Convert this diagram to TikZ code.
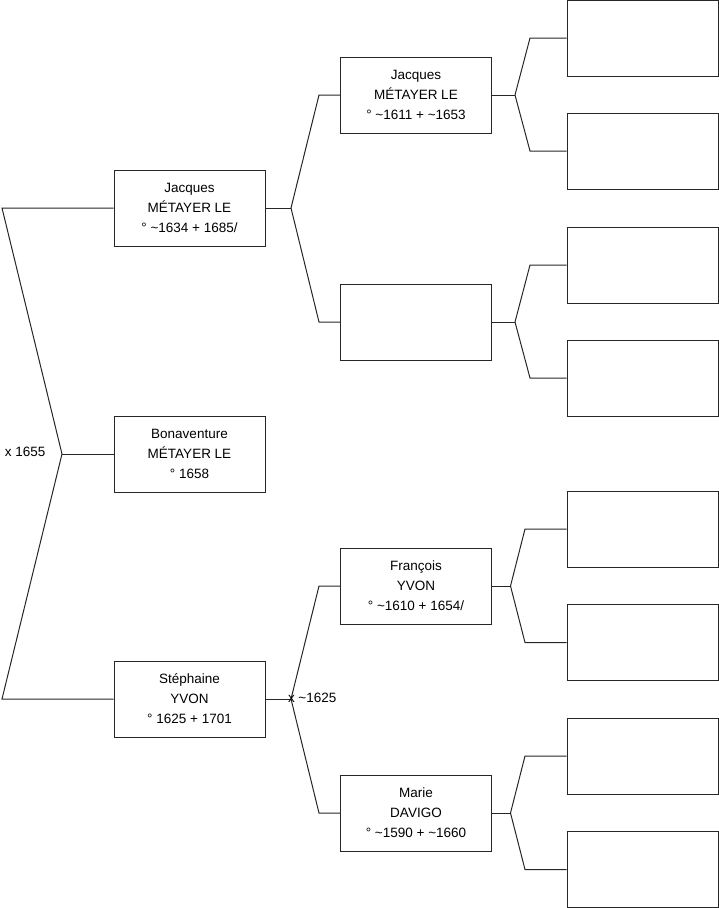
\documentclass[tikz,border=0pt]{standalone}
\usepackage{fontspec}
\setmainfont{Liberation Sans}
\begin{document}
\begin{tikzpicture}[x=1pt,y=-1pt,line width=1pt,
  person/.style={draw=black!85,line width=1pt,minimum width=151pt,minimum height=76pt,inner sep=0pt,align=center,font=\fontsize{13.5}{20}\selectfont},
  lbl/.style={inner sep=0pt,font=\fontsize{13.5}{15}\selectfont},
  conn/.style={draw=black!85,line width=1pt}]
\useasboundingbox (0,0) rectangle (719,908);
% generation 1
\node[person] (j1) at (189.5,208) {Jacques\\MÉTAYER LE\\° \textasciitilde1634 + 1685/};
\node[person] (b1) at (189.5,454) {Bonaventure\\MÉTAYER LE\\° 1658};
\node[person] (s1) at (189.5,699) {Stéphaine\\YVON\\° 1625 + 1701};
% generation 2
\node[person] (j2) at (416,95) {Jacques\\MÉTAYER LE\\° \textasciitilde1611 + \textasciitilde1653};
\node[person] (e2) at (416,322) {};
\node[person] (f2) at (416,586) {François\\YVON\\° \textasciitilde1610 + 1654/};
\node[person] (m2) at (416,813) {Marie\\DAVIGO\\° \textasciitilde1590 + \textasciitilde1660};
% generation 3
\node[person] (g1) at (642.5,38) {};
\node[person] (g2) at (642.5,151) {};
\node[person] (g3) at (642.5,265) {};
\node[person] (g4) at (642.5,378) {};
\node[person] (g5) at (642.5,529) {};
\node[person] (g6) at (642.5,642.5) {};
\node[person] (g7) at (642.5,756) {};
\node[person] (g8) at (642.5,869.5) {};
% left bracket
\coordinate (L1) at (2,208);
\coordinate (F0) at (62,454);
\coordinate (L2) at (2,699);
\draw[conn] (j1.west) -- (L1) -- (F0) -- (L2) -- (s1.west);
\draw[conn] (F0) -- (b1.west);
\node[lbl,anchor=east] (x1655) at (46,452) {x 1655};
% Jacques gen1 fork
\coordinate (F1) at (291,208);
\coordinate (F1a) at (319,95);
\coordinate (F1b) at (319,322);
\draw[conn] (j1.east) -- (F1);
\draw[conn] (F1) -- (F1a) -- (j2.west);
\draw[conn] (F1) -- (F1b) -- (e2.west);
% Stephaine fork
\coordinate (F2) at (291,699);
\coordinate (F2a) at (319,586);
\coordinate (F2b) at (319,813);
\draw[conn] (s1.east) -- (F2);
\draw[conn] (F2) -- (F2a) -- (f2.west);
\draw[conn] (F2) -- (F2b) -- (m2.west);
\node[lbl,anchor=west] (x1625) at (287.5,698) {x \textasciitilde1625};
% gen2 forks
\coordinate (F3) at (515,95);
\coordinate (F3a) at (530,38);
\coordinate (F3b) at (530,151);
\draw[conn] (j2.east) -- (F3);
\draw[conn] (F3) -- (F3a) -- (g1.west);
\draw[conn] (F3) -- (F3b) -- (g2.west);
\coordinate (F4) at (515,322);
\coordinate (F4a) at (530,265);
\coordinate (F4b) at (530,378);
\draw[conn] (e2.east) -- (F4);
\draw[conn] (F4) -- (F4a) -- (g3.west);
\draw[conn] (F4) -- (F4b) -- (g4.west);
\coordinate (F5) at (510.5,586);
\coordinate (F5a) at (525,529);
\coordinate (F5b) at (525,642.5);
\draw[conn] (f2.east) -- (F5);
\draw[conn] (F5) -- (F5a) -- (g5.west);
\draw[conn] (F5) -- (F5b) -- (g6.west);
\coordinate (F6) at (510.5,813);
\coordinate (F6a) at (525,756);
\coordinate (F6b) at (525,869.5);
\draw[conn] (m2.east) -- (F6);
\draw[conn] (F6) -- (F6a) -- (g7.west);
\draw[conn] (F6) -- (F6b) -- (g8.west);
\end{tikzpicture}
\end{document}
